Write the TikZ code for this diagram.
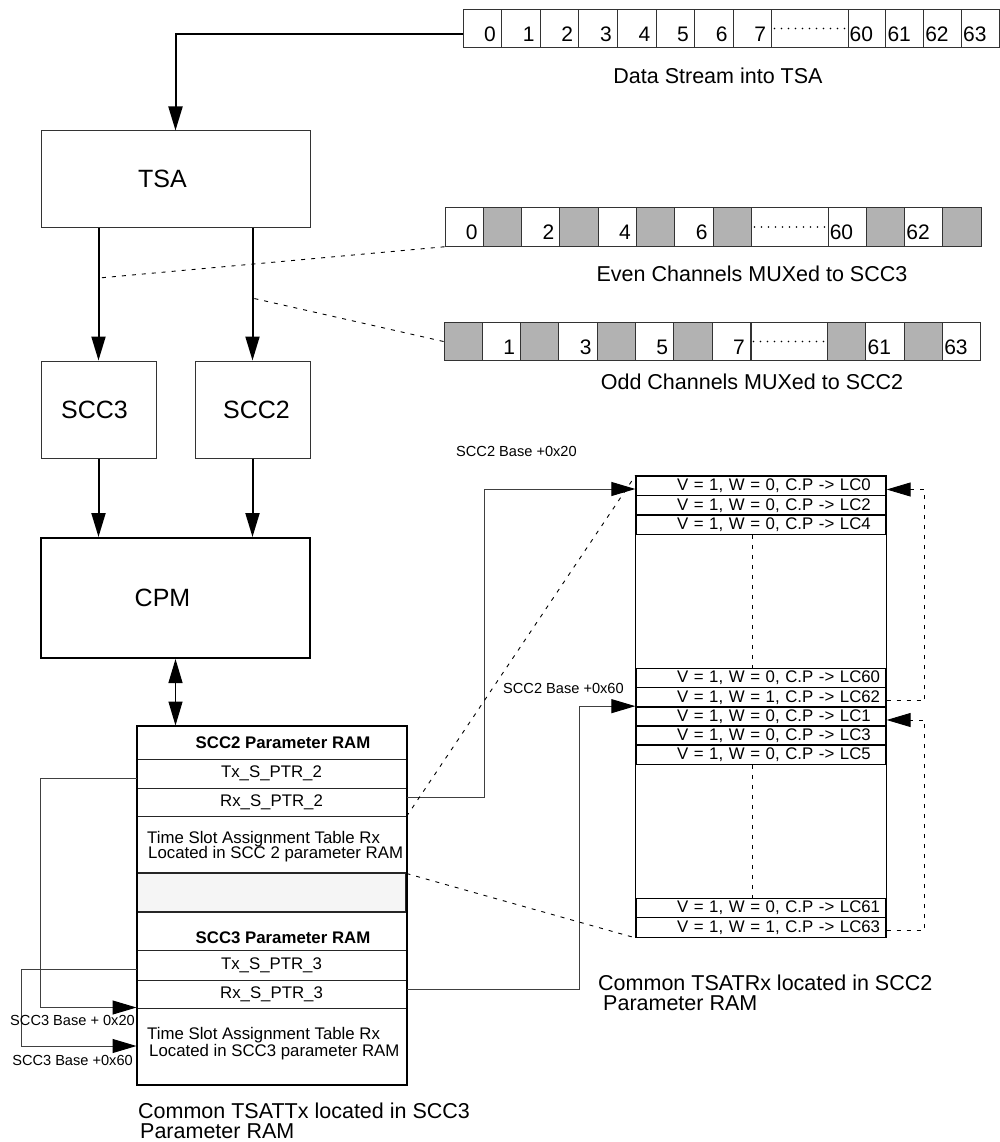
\documentclass[tikz,border=0pt]{standalone}
\usepackage{fontspec}
\setmainfont{Liberation Sans}
\usetikzlibrary{arrows.meta}

\tikzset{
  blk/.style={draw=black!80, line width=1pt, inner sep=0pt, font=\fontsize{25}{30}\selectfont},
  cell/.style={draw=black!80, line width=1pt, minimum width=38.3pt, minimum height=38.5pt, inner sep=0pt},
  mute/.style={cell, fill=black!30},
  num/.style={anchor=base east, inner sep=0pt, font=\fontsize{21}{24}\selectfont},
  capt/.style={anchor=base, inner sep=0pt, font=\fontsize{21.5}{24}\selectfont},
  ramrow/.style={draw=black!85, line width=1pt, minimum width=269pt, inner sep=0pt, font=\fontsize{16.8}{18}\selectfont},
  ramtxt/.style={anchor=base west, inner sep=0pt, font=\fontsize{16.8}{18}\selectfont},
  tsrow/.style={draw, line width=1.3pt, minimum width=250pt, minimum height=19.4pt, text width=250pt, align=left, inner sep=0pt, font=\fontsize{16.8}{18}\selectfont},
  lbl/.style={inner sep=0pt, font=\fontsize{14.6}{16}\selectfont},
  heavy/.style={line width=2pt},
  link/.style={draw=black!75, line width=1pt},
  arr/.style={-{Triangle[length=24pt,width=14pt,color=black]}},
  dsh/.style={line width=0.9pt, dash pattern=on 4pt off 6pt},
  dots/.style={line width=1.8pt, line cap=round, dash pattern=on 0pt off 7pt},
}

\begin{document}
\begin{tikzpicture}[x=1pt, y=-1pt]
  \fill[white] (0,0) rectangle (1000,1142);
  \useasboundingbox (0,0) rectangle (1000,1142);

  % data stream into the TSA
  \foreach \n [count=\i from 0] in {0,...,7}{
    \node[cell, minimum width=38.6pt] (d\n) at (482.3+38.6*\i, 28.5) {};
    \node[num] at ([shift={(-6,-7)}]d\n.south east) {\n};
  }
  \node[cell, minimum width=76.2pt] (ddots) at (810, 28.5) {};
  \draw[dots] ([xshift=3pt]ddots.west) -- ([xshift=-2pt]ddots.east);
  \foreach \n [count=\i from 0] in {60,...,63}{
    \node[cell, minimum width=37.8pt] (d\n) at (866.9+37.8*\i, 28.5) {};
    \node[num, anchor=base west] at ([shift={(2,-7)}]d\n.south west) {\n};
  }
  \node[capt] (dscap) at (718, 83.5) {Data Stream into TSA};

  % even channels
  \foreach \n/\s [count=\i from 0] in {0/cell,{}/mute,2/cell,{}/mute,4/cell,{}/mute,6/cell,{}/mute}{
    \node[\s] (e\i) at (464.2+38.3*\i, 227) {};
    \node[num] at ([shift={(-6,-7)}]e\i.south east) {\n};
  }
  \node[cell, minimum width=76.2pt] (edots) at (790, 227) {};
  \draw[dots] ([xshift=3pt]edots.west) -- ([xshift=-2pt]edots.east);
  \foreach \n/\s [count=\i from 8] in {60/cell,{}/mute,62/cell,{}/mute}{
    \node[\s] (e\i) at (847.2+38.3*\i-306.4, 227) {};
    \node[num, anchor=base west] at ([shift={(2,-7)}]e\i.south west) {\n};
  }
  \node[capt] (evcap) at (752, 281) {Even Channels MUXed to SCC3};

  % odd channels
  \foreach \n/\s [count=\i from 0] in {{}/mute,1/cell,{}/mute,3/cell,{}/mute,5/cell,{}/mute,7/cell}{
    \node[\s] (o\i) at (463.2+38.3*\i, 341.5) {};
    \node[num] at ([shift={(-6,-7)}]o\i.south east) {\n};
  }
  \node[cell, minimum width=76.6pt] (odots) at (789.3, 341.5) {};
  \draw[dots] ([xshift=3pt]odots.west) -- ([xshift=-2pt]odots.east);
  \foreach \n/\s [count=\i from 8] in {{}/mute,61/cell,{}/mute,63/cell}{
    \node[\s] (o\i) at (846.8+38.3*\i-306.4, 341.5) {};
    \node[num, anchor=base west] at ([shift={(2,-7)}]o\i.south west) {\n};
  }
  \node[capt] (odcap) at (752, 389) {Odd Channels MUXed to SCC2};

  % blocks
  \node[blk, minimum width=269pt, minimum height=96pt] (tsa) at (175.5,179) {\hspace*{-26pt}TSA};
  \node[blk, minimum width=115pt, minimum height=97pt] (scc3) at (98.5,409.5) {\hspace*{-8pt}SCC3};
  \node[blk, minimum width=115pt, minimum height=97pt] (scc2) at (252.5,409.5) {\hspace*{8pt}SCC2};
  \node[blk, minimum width=269pt, minimum height=120pt, line width=2pt, draw=black] (cpm) at (175.5,598) {\hspace*{-26pt}CPM};

  \draw[heavy, arr] ([yshift=-5.5pt]d0.west) -| (tsa.north);
  \draw[heavy, arr] (tsa.south -| scc3.north) -- (scc3.north);
  \draw[heavy, arr] (tsa.south -| scc2.north) -- (scc2.north);
  \draw[heavy, arr] (scc3.south) -- (scc3.south |- cpm.north);
  \draw[heavy, arr] (scc2.south) -- (scc2.south |- cpm.north);

  \coordinate (evtap) at (99,278);
  \coordinate (odtap) at (252,298);
  \draw[dsh] (e0.south west) -- (evtap);
  \draw[dsh] (o0.west) -- (odtap);

  % parameter RAM
  \node[ramrow, minimum height=33pt, font=\fontsize{16.8}{18}\selectfont\bfseries] (hdr2) at (271.5,742.5) {\hspace*{23pt}SCC2 Parameter RAM};
  \node[ramrow, minimum height=29pt] (tx2) at (271.5,773.5) {Tx\_S\_PTR\_2};
  \node[ramrow, minimum height=28pt] (rx2) at (271.5,802) {Rx\_S\_PTR\_2};
  \node[ramrow, minimum height=57pt] (tsat2) at (271.5,844.5) {};
  \node[ramrow, minimum height=39pt, line width=2pt, fill=black!4] (gap) at (271.5,892.5) {};
  \node[ramrow, minimum height=38pt] (hdr3) at (271.5,931) {};
  \node[ramrow, minimum height=30pt] (tx3) at (271.5,965) {Tx\_S\_PTR\_3};
  \node[ramrow, minimum height=28pt] (rx3) at (271.5,994) {Rx\_S\_PTR\_3};
  \node[ramrow, minimum height=76pt] (tsat3) at (271.5,1046) {};
  \draw[line width=2pt] (hdr2.north west) rectangle (tsat3.south east);

  \node[ramtxt, anchor=center, font=\fontsize{16.8}{18}\selectfont\bfseries] (h3t) at (283,938) {SCC3 Parameter RAM};
  \node[ramtxt] (t2a) at (147,843) {Time Slot Assignment Table Rx};
  \node[ramtxt] (t2b) at (148,858) {Located in SCC 2 parameter RAM};
  \node[ramtxt] (t3a) at (147,1039) {Time Slot Assignment Table Rx};
  \node[ramtxt] (t3b) at (149,1056) {Located in SCC3 parameter RAM};

  \draw[line width=1.2pt, {Triangle[length=24pt,width=14pt]}-{Triangle[length=24pt,width=14pt]}] (cpm.south) -- (cpm.south |- hdr2.north);

  \draw[link, arr] ([yshift=-4.5pt]tx2.west) -- ++(-96,0) |- (tsat3.north west);
  \draw[link, arr] ([yshift=-4pt]tx3.west) -- ++(-115,0) |- (tsat3.west);
  \node[lbl, anchor=base east] (b20) at (135,1025) {SCC3 Base + 0x20};
  \node[lbl, anchor=base east] (b60) at (133,1065) {SCC3 Base +0x60};

  \node[capt, anchor=base west] (tcap1) at (138,1118) {Common TSATTx located in SCC3};
  \node[capt, anchor=base west] (tcap2) at (140,1138) {Parameter RAM};

  % common TSATRx
  \foreach \t/\y [count=\i] in {
      {V = 1, W = 0, C.P -> LC0}/486,
      {V = 1, W = 0, C.P -> LC2}/505.5,
      {V = 1, W = 0, C.P -> LC4}/524.5,
      {V = 1, W = 0, C.P -> LC60}/678,
      {V = 1, W = 1, C.P -> LC62}/697.5,
      {V = 1, W = 0, C.P -> LC1}/716.5,
      {V = 1, W = 0, C.P -> LC3}/735.5,
      {V = 1, W = 0, C.P -> LC5}/754.5,
      {V = 1, W = 0, C.P -> LC61}/908,
      {V = 1, W = 1, C.P -> LC63}/927.5}
    \node[tsrow] (r\i) at (761,\y) {\hspace*{41pt}\t};
  \draw[line width=1pt] (r1.north west) rectangle (r10.south east);
  \draw[dsh] ([xshift=-9pt]r3.south) -- ([xshift=-9pt]r4.north);
  \draw[dsh] ([xshift=-9pt]r8.south) -- ([xshift=-9pt]r9.north);

  \draw[link, arr] ([yshift=5pt]rx2.east) -- ++(78,0) |- ([yshift=-3pt]r1.west);
  \draw[link, arr] ([yshift=5pt]rx3.east) -- ++(173,0) |- (r6.north west);
  \node[lbl, anchor=base west] (s20) at (456,456) {SCC2 Base +0x20};
  \node[lbl, anchor=base west] (s60) at (503,693) {SCC2 Base +0x60};

  \draw[dsh] (rx2.south east) -- (r1.north west);
  \draw[dsh] (tsat2.south east) -- (r10.south west);

  \draw[dsh, arr] ([yshift=-3pt]r5.east) -- ++(38,0) |- ([yshift=-3.5pt]r1.east);
  \draw[dsh, arr] ([yshift=-2.5pt]r10.east) -- ++(38,0) |- ([yshift=-3.5pt]r6.east);

  \node[capt, anchor=base west] (rcap1) at (598,990) {Common TSATRx located in SCC2};
  \node[capt, anchor=base west] (rcap2) at (603,1010) {Parameter RAM};
\end{tikzpicture}
\end{document}
